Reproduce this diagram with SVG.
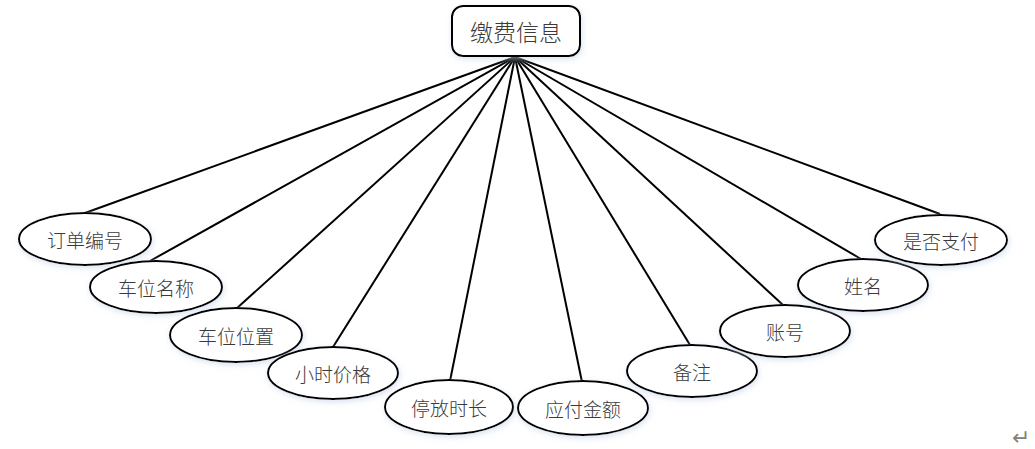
<svg xmlns="http://www.w3.org/2000/svg" width="1035" height="449" viewBox="0 0 1035 449">
<defs>
<filter id="sh" x="-20%" y="-30%" width="140%" height="160%">
<feGaussianBlur in="SourceAlpha" stdDeviation="3" result="b"/>
<feFlood flood-color="#c9d6ea" flood-opacity="0.7"/>
<feComposite in2="b" operator="in" result="s"/>
<feOffset dx="1" dy="2" result="o"/>
<feMerge><feMergeNode in="o"/><feMergeNode in="SourceGraphic"/></feMerge>
</filter>
</defs>
<style>
.n{fill:#fff;stroke:#000;stroke-width:2;filter:url(#sh)}
.t{font-family:"Noto Sans CJK SC","Microsoft YaHei",sans-serif;font-size:19px;font-weight:300;fill:#3a3a3a;text-anchor:middle;dominant-baseline:central}
.c line{stroke:#000;stroke-width:2}
</style>
<rect width="1035" height="449" fill="#fff"/>
<g class="c" id="connectors">
<line x1="515" y1="57" x2="85" y2="213"/>
<line x1="515" y1="57" x2="150" y2="261"/>
<line x1="515" y1="57" x2="236" y2="309"/>
<line x1="515" y1="57" x2="333" y2="347"/>
<line x1="515" y1="57" x2="450" y2="381"/>
<line x1="515" y1="57" x2="582" y2="382"/>
<line x1="515" y1="57" x2="690" y2="345"/>
<line x1="515" y1="57" x2="783" y2="305"/>
<line x1="515" y1="57" x2="861" y2="259"/>
<line x1="515" y1="57" x2="940" y2="214"/>
</g>
<g id="root">
<rect class="n" x="452" y="6" width="128" height="50" rx="11"/>
<text class="t" x="516" y="31" style="font-size:23px">缴费信息</text>
</g>
<g id="n1"><ellipse class="n" cx="85" cy="239" rx="66" ry="26"/><text class="t" x="85" y="239">订单编号</text></g>
<g id="n2"><ellipse class="n" cx="156" cy="287" rx="66" ry="26"/><text class="t" x="156" y="287">车位名称</text></g>
<g id="n3"><ellipse class="n" cx="236" cy="335" rx="66" ry="27"/><text class="t" x="236" y="335">车位位置</text></g>
<g id="n4"><ellipse class="n" cx="333" cy="373" rx="65" ry="26"/><text class="t" x="333" y="373">小时价格</text></g>
<g id="n5"><ellipse class="n" cx="449" cy="407" rx="64" ry="27"/><text class="t" x="449" y="407">停放时长</text></g>
<g id="n6"><ellipse class="n" cx="583" cy="408" rx="65" ry="27"/><text class="t" x="583" y="408">应付金额</text></g>
<g id="n7"><ellipse class="n" cx="692" cy="371" rx="65" ry="26"/><text class="t" x="692" y="371">备注</text></g>
<g id="n8"><ellipse class="n" cx="785" cy="331" rx="65" ry="26"/><text class="t" x="785" y="331">账号</text></g>
<g id="n9"><ellipse class="n" cx="863" cy="285" rx="65" ry="26"/><text class="t" x="863" y="285">姓名</text></g>
<g id="n10"><ellipse class="n" cx="941" cy="240" rx="66" ry="25"/><text class="t" x="941" y="240">是否支付</text></g>
<text x="1021" y="437" style="font-family:'DejaVu Sans',sans-serif;font-size:22px;fill:#808080;text-anchor:middle;dominant-baseline:central">↵</text>
</svg>
